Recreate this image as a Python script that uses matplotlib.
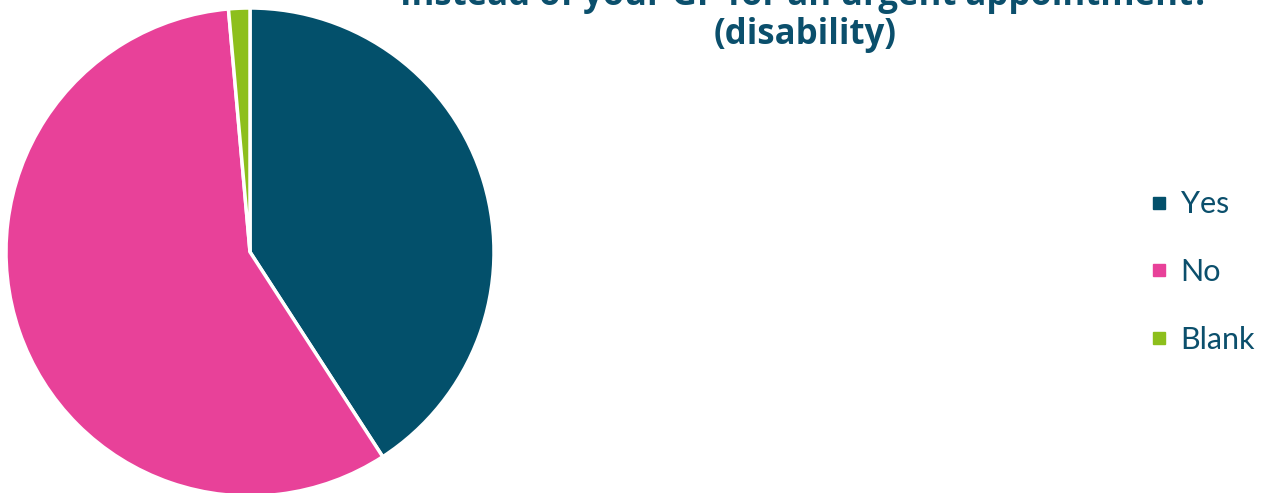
import matplotlib.pyplot as plt
from matplotlib.lines import Line2D

labels = ["Yes", "No", "Blank"]
counts = [29, 41, 1]
colors = ["#03506B", "#E84199", "#8DBF1C"]
title_lines = ["Instead of your GP for an urgent appointment?", "(disability)"]
text_color = "#0B4F6C"

W, H = 1272, 493
fig = plt.figure(figsize=(W / 100, H / 100), dpi=100)
plt.rcParams["font.family"] = ["Lato", "DejaVu Sans"]

# pie sits on the left, slightly clipped at the bottom
cx, cy, r = 250, 252, 244
ax = fig.add_axes([(cx - r) / W, (H - cy - r) / H, 2 * r / W, 2 * r / H])
ax.pie(counts, colors=colors, startangle=90, counterclock=False,
       wedgeprops=dict(edgecolor="white", linewidth=2.5), radius=1)
ax.set_xlim(-1, 1)
ax.set_ylim(-1, 1)
ax.set_aspect("equal")
ax.axis("off")

# title runs off the top edge of the canvas
for line, base_y in zip(title_lines, [5, 44]):
    fig.text(805 / W, 1 - base_y / H, line, ha="center", va="baseline",
             fontsize=25, fontweight="bold", color=text_color,
             family=["Open Sans", "DejaVu Sans"])

handles = [Line2D([], [], marker="s", linestyle="none", markersize=9,
                  markerfacecolor=c, markeredgecolor=c) for c in colors]
fig.legend(handles, labels, loc="center left", bbox_to_anchor=(1150 / W, 1 - 272 / H),
           frameon=False, fontsize=22, labelcolor=text_color, handlelength=0.6,
           handletextpad=0.4, labelspacing=1.3, borderaxespad=0, borderpad=0)

fig.savefig("out.png", dpi=100)
